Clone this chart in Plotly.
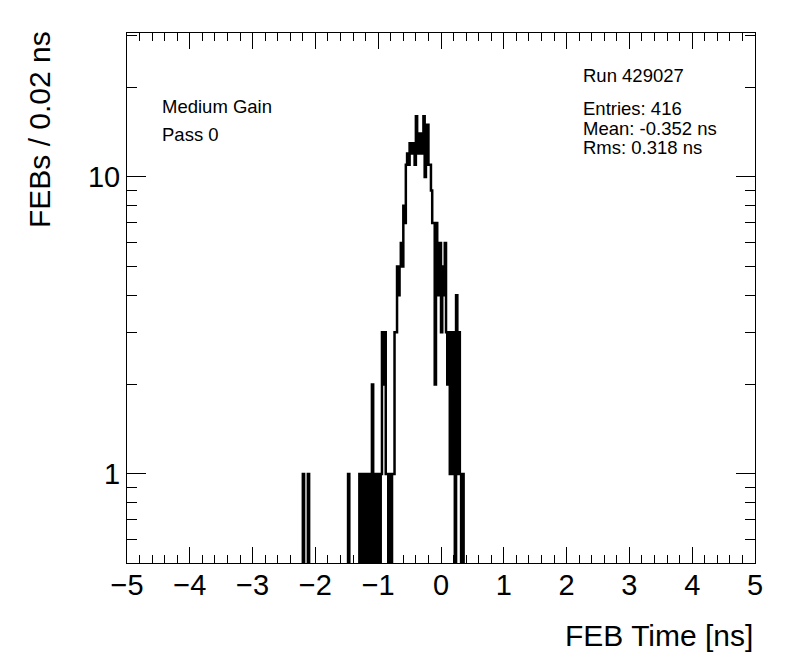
import numpy as np
import plotly.graph_objects as go

# Histogram: bin width 0.02 ns from -5 to 5 (500 bins); listed bins are non-empty
bin_low_edges = [-2.20, -2.12, -1.48,
                 -1.30, -1.26, -1.22, -1.20, -1.16, -1.12, -1.10, -1.06, -1.02, -0.96,
                 -0.94, -0.92, -0.90, -0.88, -0.86, -0.82, -0.78, -0.76, -0.74,
                 -0.72, -0.70, -0.68, -0.66, -0.64, -0.62, -0.60, -0.58, -0.56, -0.54,
                 -0.52, -0.50, -0.48, -0.46, -0.44, -0.42, -0.40, -0.38, -0.36, -0.34,
                 -0.32, -0.30, -0.28, -0.26, -0.24, -0.22, -0.20, -0.18, -0.16, -0.14,
                 -0.12, -0.10, -0.08, -0.06, -0.04, -0.02, 0.00, 0.02, 0.04, 0.06,
                 0.08, 0.10, 0.12, 0.14, 0.16, 0.18, 0.20, 0.24, 0.26, 0.28, 0.30, 0.34]
bin_counts = [1, 1, 1,
              1, 1, 1, 1, 1, 1, 2, 1, 1, 1,
              3, 2, 3, 1, 1, 1, 1, 1, 3,
              3, 5, 4, 5, 6, 5, 8, 7, 11, 12,
              11, 13, 12, 12, 13, 11, 16, 14, 12, 14,
              13, 12, 16, 10, 13, 15, 11, 11, 9, 7,
              7, 2, 7, 6, 4, 6, 3, 5, 4, 6,
              3, 2, 3, 1, 2, 3, 1, 4, 1, 3, 1, 1]

x_min, x_max, bw = -5.0, 5.0, 0.02
n_bins = int(round((x_max - x_min) / bw))
edges = x_min + bw * np.arange(n_bins + 1)
counts = np.zeros(n_bins)
for xl, c in zip(bin_low_edges, bin_counts):
    counts[int(round((xl - x_min) / bw))] = c

# zero bins fall below the log-axis minimum (drawn along the bottom frame, like ROOT)
y_draw = np.where(counts > 0, counts, 0.05)
xs = np.concatenate([edges[:-1], [edges[-1]]])
ys = np.concatenate([y_draw, [y_draw[-1]]])

fig = go.Figure()
fig.add_trace(go.Scatter(x=xs, y=ys, mode="lines", line_shape="hv",
                         line=dict(color="black", width=2.5), showlegend=False,
                         hoverinfo="skip"))

font_family = "Liberation Sans, Arial, Helvetica, sans-serif"
fig.update_layout(
    width=796, height=672,
    margin=dict(l=119, r=49, t=25, b=117),
    paper_bgcolor="white", plot_bgcolor="white",
    font=dict(family=font_family, color="black"),
    xaxis=dict(range=[-5, 5], dtick=1, tick0=-5, ticks="inside", ticklen=16,
               tickwidth=1, tickcolor="black", mirror="allticks", showline=True,
               linecolor="black", linewidth=1, showgrid=False, zeroline=False,
               tickfont=dict(size=29), ticklabelstandoff=-4,
               minor=dict(ticks="inside", ticklen=8, dtick=0.2, tickcolor="black",
                          showgrid=False)),
    yaxis=dict(type="log", range=[-0.2997, 1.4848], tickvals=[1, 10],
               ticktext=["1", "10"], ticks="inside", ticklen=19, tickwidth=1,
               tickcolor="black", mirror="allticks", showline=True, linecolor="black",
               linewidth=1, showgrid=False, zeroline=False, tickfont=dict(size=29),
               minor=dict(ticks="inside", ticklen=10, tickcolor="black", showgrid=False,
                          tickvals=[0.6, 0.7, 0.8, 0.9, 2, 3, 4, 5, 6, 7, 8, 9, 20, 30])),
)

ann = [
    dict(text="FEB Time [ns]", x=1, y=-0.1377, xanchor="right", yanchor="middle",
         font=dict(size=30)),
    dict(text="FEBs / 0.02 ns", x=-0.1385, y=0.817, xanchor="center", yanchor="middle",
         textangle=-90, font=dict(size=30)),
    dict(text="Medium Gain", x=(160 - 127) / 628, y=(563 - 107) / 530, xanchor="left",
         yanchor="middle", font=dict(size=18.5)),
    dict(text="Pass 0", x=(160 - 127) / 628, y=(563 - 135) / 530, xanchor="left",
         yanchor="middle", font=dict(size=18.5)),
    dict(text="Run 429027", x=(581 - 127) / 628, y=(563 - 75) / 530, xanchor="left",
         yanchor="middle", font=dict(size=18.5)),
    dict(text="Entries: 416", x=(581 - 127) / 628, y=(563 - 109) / 530, xanchor="left",
         yanchor="middle", font=dict(size=18.5)),
    dict(text="Mean: -0.352 ns", x=(581 - 127) / 628, y=(563 - 129) / 530, xanchor="left",
         yanchor="middle", font=dict(size=18.5)),
    dict(text="Rms: 0.318 ns", x=(581 - 127) / 628, y=(563 - 148) / 530, xanchor="left",
         yanchor="middle", font=dict(size=18.5)),
]
for a in ann:
    a.update(xref="paper", yref="paper", showarrow=False)
    fig.add_annotation(**a)

fig.write_html("out.html")
